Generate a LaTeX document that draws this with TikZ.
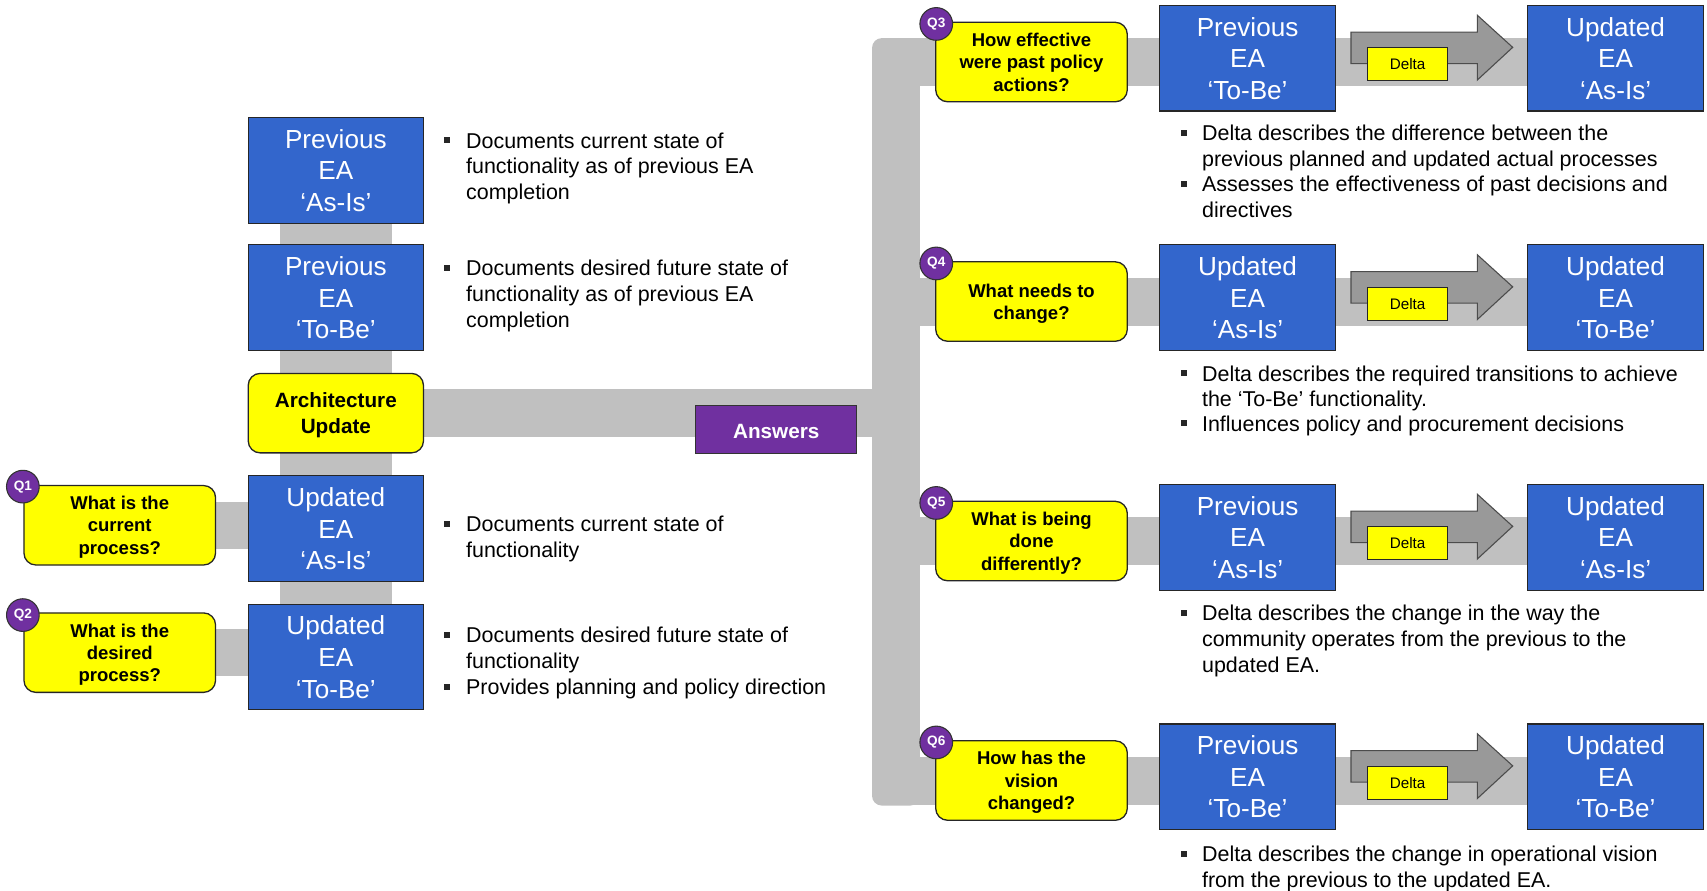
\documentclass[tikz,border=0pt]{standalone}
\usepackage{fontspec}
\setmainfont{Liberation Sans}
\usetikzlibrary{backgrounds}
\definecolor{eablue}{HTML}{3366CC}
\definecolor{eayellow}{HTML}{FFFF00}
\definecolor{eagray}{HTML}{C0C0C0}
\definecolor{arrgray}{HTML}{999999}
\definecolor{eapurple}{HTML}{7030A0}
\newcommand\fsz[2]{\fontsize{#1}{#2}\selectfont}
\tikzset{
  eabox/.style={draw=black!85, line width=1pt, fill=eablue, text=white, minimum width=161pt, minimum height=97pt, inner sep=0pt, align=center, text depth=-6pt, font=\fsz{24}{29}},
  qbox/.style={draw=black!85, line width=1.2pt, fill=eayellow, rounded corners=11pt, minimum width=176pt, minimum height=73pt, inner sep=0pt, align=center, text depth=-4.5pt, font=\bfseries\fsz{17}{20.5}},
  qtag/.style={circle, draw=black!80, line width=1pt, fill=eapurple, text=white, minimum size=30pt, inner sep=0pt, font=\bfseries\fsz{12.5}{14}},
  bultext/.style={anchor=north west, inner sep=0pt, align=left, font=\fsz{19.7}{23.7}},
  bulsq/.style={fill=black!85, minimum size=5.5pt, inner sep=0pt},
  graybar/.style={draw=eagray, line cap=butt},
  deltabox/.style={draw=black!85, line width=1pt, fill=eayellow, minimum width=74pt, minimum height=30pt, inner sep=0pt, font=\fsz{14}{16}},
  eaarrow/.style={fill=arrgray, draw=black!70, line width=1pt, line join=miter},
}
% #1 index, #2 vertical offset, #3 question, #4 first box, #5 second box
\newcommand\earow[5]{%
  \node[qbox, minimum width=176pt] (q#1) at (947.5,-57-#2) {#3};
  \node[qtag] (t#1) at (860,-22-#2) {Q#1};
  \node[eabox, minimum width=162pt] (a#1) at (1146,-53.5-#2) {#4};
  \node[eabox, minimum width=162pt] (b#1) at (1484,-53.5-#2) {#5};
  \coordinate (r#1) at (823,-57-#2);
  \draw[eaarrow] (1241,-29.5-#2) -- (1357,-29.5-#2) -- (1357,-14-#2) -- (1389.5,-43.5-#2)
     -- (1357,-73.5-#2) -- (1357,-58.5-#2) -- (1241,-58.5-#2) -- cycle;
  \node[deltabox] (d#1) at (1293,-59-#2) {Delta};
}
\begin{document}
\begin{tikzpicture}[x=1pt,y=1pt]
\useasboundingbox (0,0) rectangle (1568,-818);

% left column
\node[eabox] (pa) at (308.5,-156.5) {Previous\\EA\\‘As-Is’};
\node[eabox] (pt) at (308.5,-273.5) {Previous\\EA\\‘To-Be’};
\node[qbox, minimum width=161pt, text depth=-3pt, font=\bfseries\fsz{19}{24}] (arch) at (308.5,-379.5) {Architecture\\Update};
\node[eabox] (ua) at (308.5,-485.5) {Updated\\EA\\‘As-Is’};
\node[eabox] (ut) at (308.5,-603.5) {Updated\\EA\\‘To-Be’};
\node[qbox, text depth=-8pt] (q1) at (110,-482.5) {What is the\\current\\process?};
\node[qtag] (t1) at (21,-447) {Q1};
\node[qbox, text depth=-8pt] (q2) at (110,-599.5) {What is the\\desired\\process?};
\node[qtag] (t2) at (21,-565) {Q2};

% right rows
\earow{3}{0}{How effective\\were past policy\\actions?}{Previous\\EA\\‘To-Be’}{Updated\\EA\\‘As-Is’}
\earow{4}{220}{What needs to\\change?}{Updated\\EA\\‘As-Is’}{Updated\\EA\\‘To-Be’}
\earow{5}{440}{What is being\\done\\differently?}{Previous\\EA\\‘As-Is’}{Updated\\EA\\‘As-Is’}
\earow{6}{660}{How has the\\vision\\changed?}{Previous\\EA\\‘To-Be’}{Updated\\EA\\‘To-Be’}

\node[draw=black!80, line width=1pt, fill=eapurple, text=white, minimum width=148pt, minimum height=44.5pt, inner sep=0pt, text height=17pt, font=\bfseries\fsz{19}{22}] (ans) at (713,-394.5) {Answers};

% connector bars
\begin{scope}[on background layer]
  \draw[graybar, line width=103pt] (pa.center) -- (ut.center);
  \draw[graybar, line width=43pt] (q1.center) -- (q1.center -| ua.center);
  \draw[graybar, line width=43pt] (q2.center) -- (q2.center -| ut.center);
  \draw[graybar, line width=43.5pt] (arch.center) -- (arch.center -| r3);
  \fill[eagray, rounded corners=9pt] (801,-35) rectangle (845,-740);
  \foreach \i in {3,4,5,6} {
    \draw[graybar, line width=44pt] (r\i) -- (r\i -| b\i.center);
  }
\end{scope}

% bullets, left
\node[bulsq] (s1) at (411,-129) {};
\node[bultext] (x1) at (428,-121.6) {Documents current state of\\functionality as of previous EA\\completion};
\node[bulsq] (s2) at (411,-246) {};
\node[bultext] (x2) at (428,-238.6) {Documents desired future state of\\functionality as of previous EA\\completion};
\node[bulsq] (s3) at (411,-481) {};
\node[bultext] (x3) at (428,-473.6) {Documents current state of\\functionality};
\node[bulsq] (s4) at (411,-583) {};
\node[bultext] (x4) at (428,-575.6) {Documents desired future state of\\functionality};
\node[bulsq] (s5) at (411,-631) {};
\node[bultext] (x5) at (428,-623.6) {Provides planning and policy direction};

% bullets, right
\node[bulsq] (s6) at (1088,-122) {};
\node[bultext] (x6) at (1104,-114.6) {Delta describes the difference between the\\previous planned and updated actual processes};
\node[bulsq] (s7) at (1088,-169) {};
\node[bultext] (x7) at (1104,-161.6) {Assesses the effectiveness of past decisions and\\directives};
\node[bulsq] (s8) at (1088,-343) {};
\node[bultext] (x8) at (1104,-335.6) {Delta describes the required transitions to achieve\\the ‘To-Be’ functionality.};
\node[bulsq] (s9) at (1088,-389) {};
\node[bultext] (x9) at (1104,-381.6) {Influences policy and procurement decisions};
\node[bulsq] (s10) at (1088,-563) {};
\node[bultext] (x10) at (1104,-555.6) {Delta describes the change in the way the\\community operates from the previous to the\\updated EA.};
\node[bulsq] (s11) at (1088,-784) {};
\node[bultext] (x11) at (1104,-776.6) {Delta describes the change in operational vision\\from the previous to the updated EA.};
\end{tikzpicture}
\end{document}
